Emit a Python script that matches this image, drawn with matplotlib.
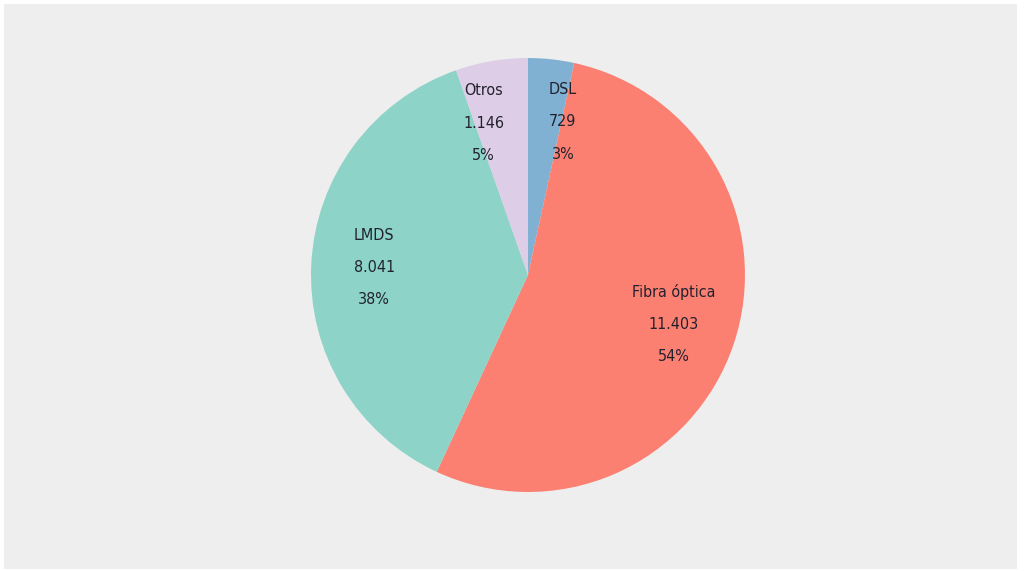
import matplotlib.pyplot as plt
from matplotlib.patches import Rectangle
import numpy as np

categorias = ["DSL", "Fibra óptica", "LMDS", "Otros"]
valores = [729, 11403, 8041, 1146]
porcentajes = [3, 54, 38, 5]
colores = ["#80b1d3", "#fb8072", "#8dd3c7", "#ddcde6"]

plt.rcParams['font.family'] = ['DejaVu Sans']
plt.rcParams['font.stretch'] = 'condensed'

fig = plt.figure(figsize=(10.27, 5.71), dpi=100)
fig.patch.set_facecolor("white")
fig.add_artist(Rectangle((4 / 1027, 2 / 571), 1013 / 1027, 565 / 571,
                         transform=fig.transFigure, facecolor="#eeeeee",
                         edgecolor="none", zorder=0))

ax = fig.add_axes([0.3028, 0.1384, 0.4226, 0.760])
ax.set_facecolor("none")

total = sum(valores)


def etiqueta(nombre, v, p):
    num = f"{v:,}".replace(",", ".")
    return f"{nombre}\n{num}\n{p}%"


wedges, texts = ax.pie(valores, colors=colores, startangle=90, counterclock=False,
                       labels=[etiqueta(c, v, p) for c, v, p in zip(categorias, valores, porcentajes)],
                       labeldistance=0.71, wedgeprops=dict(linewidth=0),
                       textprops=dict(fontsize=11.5, color="#22222e", fontstretch="condensed",
                                      ha="center", va="center", linespacing=2.45))

# small slices: nudge labels sideways like the original
for t, v in zip(texts, valores):
    t.set_ha("center")
    if v / total < 0.1:
        x, y = t.get_position()
        t.set_position((x + np.sign(x) * 0.085, y))

ax.set_xlim(-1, 1)
ax.set_ylim(-1, 1)
ax.set_aspect("equal")
ax.axis("off")

fig.savefig("out.png", dpi=100)
